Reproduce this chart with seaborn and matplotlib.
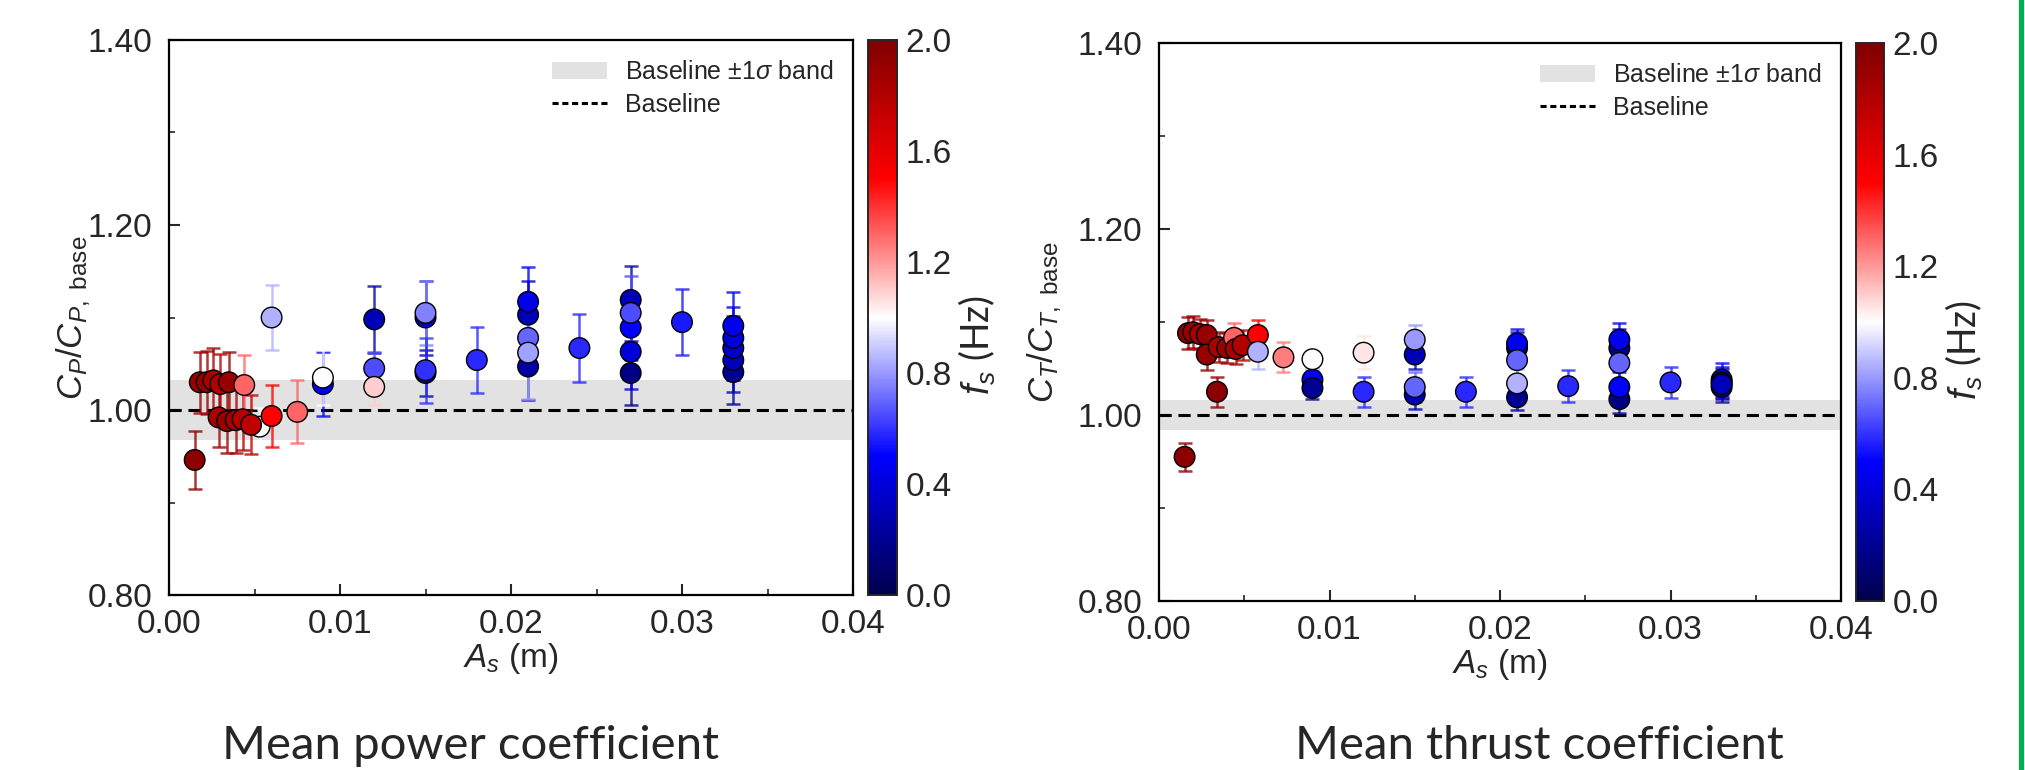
import numpy as np
import pandas as pd
import matplotlib
matplotlib.use("Agg")
import matplotlib.pyplot as plt
import seaborn as sns
from matplotlib.colors import Normalize
from matplotlib.cm import ScalarMappable
from matplotlib.lines import Line2D
from matplotlib.patches import Patch
from matplotlib.ticker import MultipleLocator, FormatStrFormatter
from matplotlib import font_manager

# ---------------- data: mean power coefficient ----------------
p_As = [0.0015, 0.0018, 0.0022, 0.0026, 0.0030, 0.0035,
        0.0053, 0.0029, 0.0034, 0.0039, 0.0043, 0.0048,
        0.0044, 0.0060, 0.0075, 0.0060,
        0.0090, 0.0090,
        0.0120, 0.0120, 0.0120,
        0.0150, 0.0150, 0.0150, 0.0150,
        0.0180,
        0.0210, 0.0210, 0.0210, 0.0210, 0.0210,
        0.0240,
        0.0270, 0.0270, 0.0270, 0.0270, 0.0270,
        0.0300,
        0.0330, 0.0330, 0.0330, 0.0330, 0.0330]
p_val = [0.946, 1.030, 1.030, 1.032, 1.028, 1.030,
         0.982, 0.992, 0.988, 0.989, 0.990, 0.984,
         1.027, 0.9935, 0.998, 1.100,
         1.028, 1.035,
         1.098, 1.045, 1.025,
         1.100, 1.105, 1.040, 1.043,
         1.054,
         1.103, 1.117, 1.047, 1.078, 1.062,
         1.067,
         1.119, 1.089, 1.040, 1.063, 1.105,
         1.095,
         1.041, 1.054, 1.067, 1.078, 1.091]
p_err = [0.031, 0.033, 0.034, 0.035, 0.033, 0.033,
         0.020, 0.032, 0.035, 0.035, 0.033, 0.032,
         0.033, 0.033, 0.034, 0.035,
         0.035, 0.030,
         0.036, 0.018, 0.020,
         0.040, 0.035, 0.025, 0.035,
         0.036,
         0.036, 0.038, 0.036, 0.035, 0.050,
         0.037,
         0.037, 0.035, 0.035, 0.040, 0.040,
         0.036,
         0.035, 0.035, 0.035, 0.033, 0.037]
p_fs = [1.95, 1.90, 1.90, 1.85, 1.80, 1.90,
        1.00, 1.85, 1.90, 1.85, 1.80, 1.75,
        1.30, 1.50, 1.30, 0.85,
        0.50, 1.00,
        0.30, 0.65, 1.10,
        0.30, 0.75, 0.30, 0.60,
        0.58,
        0.30, 0.45, 0.25, 0.70, 0.82,
        0.58,
        0.30, 0.50, 0.15, 0.40, 0.65,
        0.55,
        0.20, 0.30, 0.35, 0.40, 0.45]

# ---------------- data: mean thrust coefficient ----------------
t_As = [0.0015, 0.0017, 0.0020, 0.0024, 0.0028, 0.0028,
        0.0035, 0.0040, 0.0044, 0.0045, 0.0049, 0.0034,
        0.0058, 0.0058, 0.0073,
        0.0090, 0.0090, 0.0090,
        0.0120, 0.0120,
        0.0150, 0.0150, 0.0150, 0.0150,
        0.0180,
        0.0210, 0.0210, 0.0210, 0.0210, 0.0210,
        0.0240,
        0.0270, 0.0270, 0.0270, 0.0270, 0.0270,
        0.0300,
        0.0330, 0.0330, 0.0330, 0.0330]
t_val = [0.955, 1.088, 1.089, 1.087, 1.086, 1.065,
         1.073, 1.072, 1.083, 1.071, 1.075, 1.025,
         1.086, 1.068, 1.062,
         1.038, 1.029, 1.060,
         1.067, 1.025,
         1.065, 1.081, 1.022, 1.030,
         1.025,
         1.072, 1.077, 1.059, 1.019, 1.034,
         1.031,
         1.072, 1.081, 1.056, 1.017, 1.030,
         1.035,
         1.038, 1.030, 1.035, 1.033]
t_err = [0.015, 0.017, 0.017, 0.016, 0.016, 0.017,
         0.016, 0.016, 0.016, 0.016, 0.016, 0.016,
         0.016, 0.018, 0.016,
         0.012, 0.012, 0.010,
         0.018, 0.016,
         0.016, 0.016, 0.016, 0.016,
         0.016,
         0.017, 0.016, 0.017, 0.014, 0.016,
         0.017,
         0.020, 0.018, 0.018, 0.015, 0.016,
         0.017,
         0.018, 0.016, 0.017, 0.016]
t_fs = [1.95, 1.95, 1.90, 1.85, 1.90, 1.90,
        1.85, 1.90, 1.30, 1.85, 1.80, 1.95,
        1.50, 0.85, 1.25,
        0.50, 0.20, 1.00,
        1.05, 0.58,
        0.30, 0.80, 0.30, 0.70,
        0.58,
        0.25, 0.45, 0.70, 0.20, 0.85,
        0.58,
        0.20, 0.45, 0.70, 0.15, 0.50,
        0.58,
        0.50, 0.20, 0.40, 0.30]

p_band = 0.032
t_band = 0.016

xticks = [0.00, 0.01, 0.02, 0.03, 0.04]
yticks = [0.80, 1.00, 1.20, 1.40]
cticks = [0.0, 0.4, 0.8, 1.2, 1.6, 2.0]

# ---------------- style ----------------
sns.set_theme(style="white")
names = {f.name for f in font_manager.fontManager.ttflist}
narrow = 'Liberation Sans Narrow' if 'Liberation Sans Narrow' in names else 'Liberation Sans'
plt.rcParams['font.family'] = [narrow, 'Liberation Sans', 'DejaVu Sans']
plt.rcParams['mathtext.fontset'] = 'custom'
plt.rcParams['mathtext.rm'] = narrow
plt.rcParams['mathtext.it'] = narrow + ':italic'
plt.rcParams['mathtext.bf'] = narrow + ':bold'

cmap = plt.get_cmap('seismic')
norm = Normalize(0, 2)

W, H = 2025, 770
fig = plt.figure(figsize=(W / 100, H / 100), dpi=100)
fig.patch.set_facecolor('white')

ax1 = fig.add_axes([169 / W, 175 / H, 684 / W, 555 / H])
cax1 = fig.add_axes([868 / W, 175 / H, 29 / W, 555 / H])
ax2 = fig.add_axes([1159 / W, 169 / H, 682 / W, 558 / H])
cax2 = fig.add_axes([1856 / W, 169 / H, 28 / W, 558 / H])


def panel(ax, cax, As, val, err, fs, band, ylabel, ypad):
    ax.axhspan(1 - band, 1 + band, color='#e2e2e2', lw=0, zorder=0)
    ax.axhline(1.0, color='black', ls=(0, (4, 2.2)), lw=2.2, zorder=1)
    cols = cmap(norm(np.asarray(fs)))
    for x, y, e, c in zip(As, val, err, cols):
        ax.errorbar(x, y, yerr=e, fmt='none', ecolor=c, elinewidth=1.8,
                    capsize=5, capthick=1.8, alpha=0.78, zorder=2)
    df = pd.DataFrame({'As': As, 'val': val, 'fs': fs})
    sns.scatterplot(data=df, x='As', y='val', hue='fs', palette='seismic',
                    hue_norm=(0, 2), s=220, edgecolor='black', linewidth=1.0,
                    legend=False, ax=ax, zorder=3)
    ax.set_xlim(0, 0.04)
    ax.set_ylim(0.8, 1.4)
    ax.set_xticks(xticks)
    ax.set_yticks(yticks)
    ax.xaxis.set_minor_locator(MultipleLocator(0.005))
    ax.yaxis.set_minor_locator(MultipleLocator(0.1))
    ax.xaxis.set_major_formatter(FormatStrFormatter('%.2f'))
    ax.yaxis.set_major_formatter(FormatStrFormatter('%.2f'))
    ax.tick_params(which='major', direction='in', length=8, width=1.5,
                   labelsize=24, bottom=True, left=True)
    ax.tick_params(axis='x', which='major', pad=10)
    ax.tick_params(axis='y', which='major', pad=12)
    ax.tick_params(which='minor', direction='in', length=4, width=1.2,
                   bottom=True, left=True)
    for sp in ax.spines.values():
        sp.set_color('black')
        sp.set_linewidth(1.6)
    ax.set_xlabel('$A_s$ (m)', fontsize=24, labelpad=1)
    ax.set_ylabel(ylabel, fontsize=25, labelpad=ypad)
    handles = [Patch(facecolor='#e2e2e2', edgecolor='none',
                     label=r'Baseline $\pm1\sigma$ band'),
               Line2D([], [], color='black', ls=(0, (2, 1.2)), lw=2.2,
                      label='Baseline')]
    ax.legend(handles=handles, loc='upper right', frameon=False, fontsize=18,
              handlelength=2.2, borderaxespad=0.4, labelspacing=0.35,
              handletextpad=0.7)
    cb = fig.colorbar(ScalarMappable(norm=norm, cmap=cmap), cax=cax)
    cb.set_ticks(cticks)
    cb.ax.yaxis.set_major_formatter(FormatStrFormatter('%.1f'))
    cb.ax.tick_params(direction='in', length=6, width=1.3, labelsize=24,
                      right=True, pad=6)
    cb.outline.set_linewidth(1.4)
    cb.set_label('$f_s$ (Hz)', fontsize=27, labelpad=4, family='Lato')
    cb.ax.yaxis.label.set_y(0.45)


panel(ax1, cax1, p_As, p_val, p_err, p_fs, p_band,
      r'$C_P/C_{P,\mathrm{\ base}}$', -4)
panel(ax2, cax2, t_As, t_val, t_err, t_fs, t_band,
      r'$C_T/C_{T,\mathrm{\ base}}$', 10)

fig.text(471 / W, 1 - 746 / H, 'Mean power coefficient', ha='center',
         va='center', fontsize=34, family='Lato')
fig.text(1539 / W, 1 - 746 / H, 'Mean thrust coefficient', ha='center',
         va='center', fontsize=34, family='Lato')

fig.add_artist(Line2D([2020.5 / W, 2020.5 / W], [0, 1], color='#00b050',
                      lw=3.8, transform=fig.transFigure))

fig.savefig('out.png', dpi=100, facecolor='white')
